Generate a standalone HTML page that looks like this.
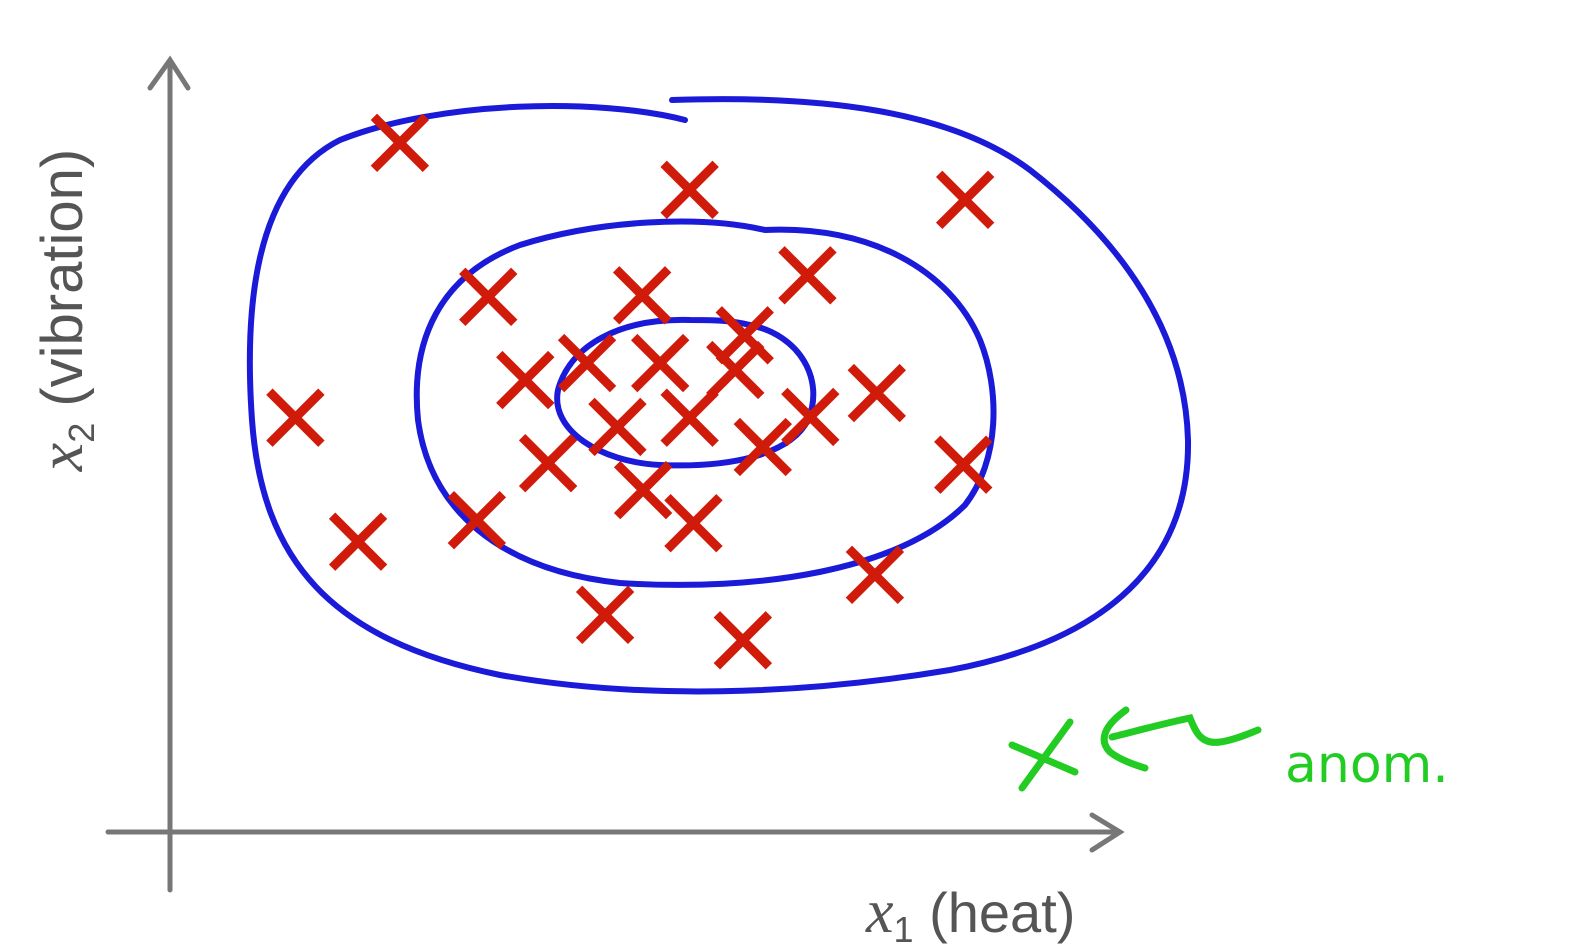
<!DOCTYPE html>
<html><head><meta charset="utf-8"><style>
html,body{margin:0;padding:0;background:#fff;}
svg{display:block;}
</style></head><body>
<svg id="chart" width="1570" height="949" viewBox="0 0 1570 949" xmlns="http://www.w3.org/2000/svg">
<rect width="1570" height="949" fill="#fff"/>
<g stroke="#777" stroke-width="5" fill="none" stroke-linecap="round">
  <line x1="170" y1="890" x2="170" y2="62"/>
  <polyline points="150,88 170,60 188,88"/>
  <line x1="108" y1="832" x2="1120" y2="832"/>
  <polyline points="1092,815 1120,832 1092,850"/>
</g>
<text transform="translate(82,310) rotate(-90)" text-anchor="middle" font-family="Liberation Sans, sans-serif" font-size="58" fill="#555"><tspan font-family="Liberation Serif, serif" font-style="italic" font-size="64">x</tspan><tspan font-size="36" dy="12">2</tspan><tspan dy="-12"> (vibration)</tspan></text>
<text x="866" y="932" font-family="Liberation Sans, sans-serif" font-size="56" fill="#555"><tspan font-family="Liberation Serif, serif" font-style="italic" font-size="62">x</tspan><tspan font-size="36" dy="10">1</tspan><tspan dy="-10">  (heat)</tspan></text>
<g fill="none" stroke="#1a1ad8" stroke-width="6" stroke-linecap="round">
  <path d="M685,120 C600,98 440,100 340,140 C250,185 245,320 252,420 C262,560 330,640 500,675 C640,700 800,695 950,670 C1110,640 1190,560 1188,440 C1185,330 1120,240 1030,170 C950,110 820,95 672,100"/>
  <path d="M765,230 C700,215 600,220 520,245 C440,275 410,340 418,420 C430,510 500,570 620,583 C760,592 900,570 965,505 C1000,460 1000,390 980,340 C950,270 870,225 765,230"/>
  <path d="M690,320 C620,318 570,345 558,390 C550,430 600,462 660,465 C730,468 790,455 808,420 C825,380 800,335 750,325 C730,320 710,320 690,320"/>
</g>
<g id="points"></g>
<g stroke="#22cc22" stroke-width="7" fill="none" stroke-linecap="round">
  <line x1="1012" y1="745" x2="1075" y2="772"/>
  <line x1="1070" y1="722" x2="1022" y2="788"/>
  <path d="M1126,710 C1105,725 1098,740 1110,752 C1120,760 1135,765 1145,768 M1112,737 C1140,730 1170,722 1190,718 C1195,730 1200,745 1220,742 C1235,740 1250,733 1258,730"/>
</g>
<text x="1285" y="782" font-family="DejaVu Sans, sans-serif" font-size="52" fill="#22cc22">anom.</text>
<script>
const pointX = [2.42,5.47,8.37,3.35,4.97,6.71,6.05,5.95,1.32,3.74,4.39,5.16,4.71,5.47,6.24,6.74,7.44,3.98,4.98,5.51,3.23,8.35,1.98,4.58,6.03,7.42];
const pointY = [8.95,8.34,8.21,6.95,6.97,7.23,6.45,6.00,5.38,5.87,6.09,6.09,5.26,5.38,5.00,5.39,5.70,4.79,4.44,4.01,4.05,4.77,3.77,2.82,2.49,3.34];
function xScale(v){ return 170 + v * 95; }
function yScale(v){ return 832 - v * 77; }
const g = document.getElementById('points');
const NS = 'http://www.w3.org/2000/svg';
const h = 26;
for (let i = 0; i < pointX.length; i++) {
  const cx = xScale(pointX[i]), cy = yScale(pointY[i]);
  const p = document.createElementNS(NS, 'path');
  p.setAttribute('d', `M${cx-h},${cy-h}L${cx+h},${cy+h}M${cx+h},${cy-h}L${cx-h},${cy+h}`);
  p.setAttribute('stroke', '#d01a0a');
  p.setAttribute('stroke-width', '9');
  p.setAttribute('fill', 'none');
  
  
  g.appendChild(p);
}
</script>
</svg>
</body></html>
